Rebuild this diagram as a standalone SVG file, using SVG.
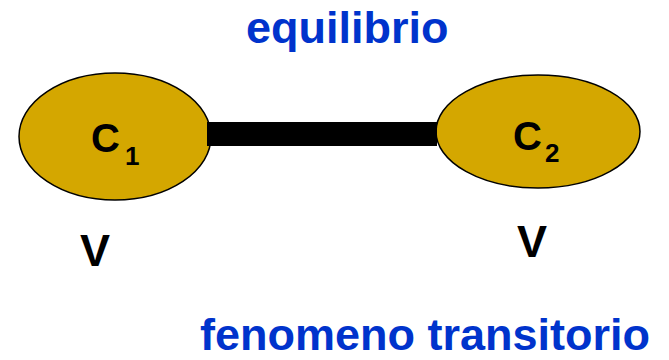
<svg xmlns="http://www.w3.org/2000/svg" width="669" height="360" viewBox="0 0 669 360">
  <style>
    .vessel { fill: #D4A700; stroke: #000; stroke-width: 1.5; }
    .lbl { font-family: "Liberation Sans", Arial, sans-serif; font-weight: bold; fill: #000; }
    .c { font-size: 40px; }
    .sub { font-size: 26px; }
    .v { font-size: 45px; }
    .title { font-family: "Liberation Sans", Arial, sans-serif; font-weight: bold; font-size: 45px; fill: #0033CC; }
  </style>
  <rect width="669" height="360" fill="#fff"/>

  <text class="title" x="246" y="43">equilibrio</text>

  <g id="vessel-c1">
    <ellipse class="vessel" cx="115" cy="136.5" rx="96" ry="63.5"/>
    <text class="lbl c" x="91" y="152">C</text>
    <text class="lbl sub" x="125" y="165">1</text>
  </g>

  <g id="vessel-c2">
    <ellipse class="vessel" cx="538" cy="131.5" rx="102" ry="56.5"/>
    <text class="lbl c" x="513" y="150">C</text>
    <text class="lbl sub" x="545" y="162">2</text>
  </g>

  <g id="connectors">
    <rect x="207" y="122" width="230" height="24" fill="#000"/>
  </g>

  <text class="lbl v" x="80" y="266">V</text>
  <text class="lbl v" x="517" y="257">V</text>

  <text class="title" x="200" y="350">fenomeno transitorio</text>
</svg>
